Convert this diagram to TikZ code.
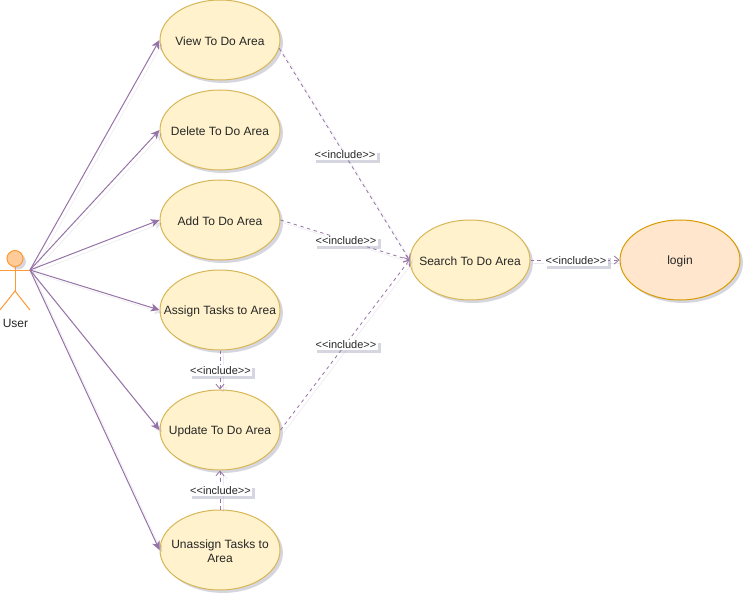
\documentclass[tikz,border=0pt]{standalone}
\usepackage{fontspec}
\setmainfont{Liberation Sans}
\usepackage{tikz}
\usetikzlibrary{arrows.meta,shapes,shadows}
\definecolor{usefill}{HTML}{FFF2CC}
\definecolor{useline}{HTML}{D6B656}
\definecolor{loginfill}{HTML}{FFE6CC}
\definecolor{loginline}{HTML}{D79B00}
\definecolor{linkline}{HTML}{9673A6}
\definecolor{actorfill}{HTML}{FFCC99}
\definecolor{actorline}{HTML}{FF9933}
\definecolor{shadowcol}{HTML}{8A8AA8}
\newcommand{\casetext}[1]{\makebox[0pt]{\raisebox{-0.75pt}[\height][\depth]{#1}}}
\tikzset{
  softshadow/.style={drop shadow={shadow xshift=2.2pt,shadow yshift=-2.2pt,fill=shadowcol,opacity=0.35}},
  lineshadow/.style={preaction={draw=shadowcol,opacity=0.18,transform canvas={shift={(2.2pt,-2.2pt)}}}},
  usecase/.style={ellipse,draw=useline,fill=usefill,line width=0.75pt,minimum width=90pt,minimum height=60pt,
    inner sep=0pt,align=center,font=\fontsize{9}{10.5}\selectfont,text=black!85,softshadow},
  logincase/.style={usecase,draw=loginline,fill=loginfill},
  assoc/.style={draw=linkline,line width=0.75pt,-{Stealth[length=6.5pt,width=6pt,inset=1.8pt]},lineshadow},
  incl/.style={draw=linkline,line width=0.6pt,dash pattern=on 2.6pt off 2.6pt,
    -{Straight Barb[length=3.5pt,width=6pt]},lineshadow},
  incllabel/.style={fill=white,inner xsep=1pt,inner ysep=1pt,font=\fontsize{8.25}{9}\selectfont,text=black!85,
    softshadow},
  stick/.style={draw=actorline,line width=0.75pt}
}
\begin{document}
\begin{tikzpicture}[x=0.75pt,y=-0.75pt]
  \useasboundingbox (0,0) rectangle (752,602);
  % actor
  \node [circle,draw=actorline,fill=actorfill,line width=0.75pt,minimum size=12pt,inner sep=0pt,softshadow] (head) at (15,258.5) {};
  \coordinate (armL) at (0,270);
  \coordinate (armR) at (30,270);
  \coordinate (hip) at (15,291);
  \coordinate (footL) at (0,310);
  \coordinate (footR) at (30,310);
  \draw [stick] (head.south) -- (hip);
  \draw [stick] (armL) -- (armR);
  \draw [stick] (footL) -- (hip) -- (footR);
  \node [font=\fontsize{9}{10.5}\selectfont,text=black!85] (user) at (15.5,323.5) {User};
  % use cases
  \node [usecase] (view) at (220,40) {\casetext{View To Do Area}};
  \node [usecase] (delete) at (220,130) {\casetext{Delete To Do Area}};
  \node [usecase] (add) at (220,220) {\casetext{Add To Do Area}};
  \node [usecase] (assign) at (220,310) {\casetext{Assign Tasks to Area}};
  \node [usecase] (update) at (220,430) {\casetext{Update To Do Area}};
  \node [usecase] (unassign) at (220,550) {\casetext{Unassign Tasks to}\\\casetext{Area}};
  \node [usecase] (search) at (470,260) {\casetext{Search To Do Area}};
  \node [logincase] (login) at (680,260) {\casetext{login}};
  % user to cases
  \draw [assoc] (armR) -- (view.west);
  \draw [assoc] (armR) -- (delete.west);
  \draw [assoc] (armR) -- (add.west);
  \draw [assoc] (armR) -- (assign.west);
  \draw [assoc] (armR) -- (update.west);
  \draw [assoc] (armR) -- (unassign.west);
  % includes
  \draw [incl] (view.-8) -- (search.west);
  \draw [incl] (add.east) -- (search.west);
  \draw [incl] (update.east) -- (search.west);
  \draw [incl] (assign.south) -- (update.north);
  \draw [incl] (unassign.north) -- (update.south);
  \draw [incl] (search.east) -- (login.west);
  \node [incllabel] (viewinc) at (345,155) {<{}<include>{}>};
  \node [incllabel] (addinc) at (346,241) {<{}<include>{}>};
  \node [incllabel] (updateinc) at (346,345) {<{}<include>{}>};
  \node [incllabel] (assigninc) at (220.5,370.5) {<{}<include>{}>};
  \node [incllabel] (unassigninc) at (220.5,490.5) {<{}<include>{}>};
  \node [incllabel] (searchinc) at (576,260.5) {<{}<include>{}>};
\end{tikzpicture}
\end{document}
